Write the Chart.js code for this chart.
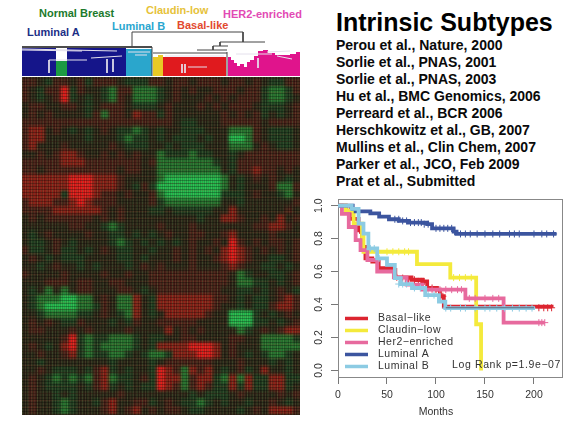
<!DOCTYPE html>
<html>
<head>
<meta charset="utf-8">
<title>Intrinsic Subtypes</title>
<script src="https://cdn.jsdelivr.net/npm/chart.js@4"></script>
<style>
html,body{margin:0;padding:0;background:#fff;width:588px;height:424px;overflow:hidden;font-family:"Liberation Sans",Arial,sans-serif}
canvas{position:absolute;display:block}
.lbl{position:absolute;font-weight:bold;font-size:11px;line-height:12px;white-space:nowrap}
#title{position:absolute;left:336px;top:8px;font-weight:bold;font-size:25px;line-height:28px;color:#000;white-space:nowrap}
#refs{position:absolute;left:336px;top:37px;font-weight:bold;font-size:14px;line-height:17px;color:#0a0a0a;white-space:nowrap}
#heatWrap{position:absolute;left:22px;top:77px;width:278px;height:338px;overflow:hidden;background:#2c2618}
#heatWrap canvas{left:-1px;top:1px;filter:blur(1.6px)}
#grain{position:absolute;left:0;top:0;right:0;bottom:0;
  background:repeating-linear-gradient(0deg,rgba(0,0,0,.28) 0 1px,transparent 1px 3px),
             repeating-linear-gradient(90deg,rgba(190,190,130,.12) 0 1px,transparent 1px 3px),
             repeating-linear-gradient(90deg,rgba(60,150,70,.14) 0 1px,transparent 1px 5px),
             repeating-linear-gradient(0deg,rgba(150,60,40,.14) 0 1px,transparent 1px 7px),
             repeating-linear-gradient(90deg,rgba(0,0,0,.16) 0 1px,transparent 1px 2px)}
</style>
</head>
<body>
<div class="lbl" style="left:39px;top:7px;color:#1c7a2c">Normal Breast</div>
<div class="lbl" style="left:27px;top:26px;color:#1c2f86">Luminal A</div>
<div class="lbl" style="left:112px;top:20px;color:#2aa6cf">Luminal B</div>
<div class="lbl" style="left:146px;top:4px;color:#e6c23a">Claudin-low</div>
<div class="lbl" style="left:177px;top:19px;color:#e2492e">Basal-like</div>
<div class="lbl" style="left:223px;top:8px;color:#e24ab4">HER2-enriched</div>
<div id="title">Intrinsic Subtypes</div>
<div id="refs"></div>
<canvas id="tree" width="278" height="52" style="left:22px;top:24px"></canvas>
<div id="heatWrap"><canvas id="heat" width="280" height="336"></canvas><div id="grain"></div></div>
<canvas id="km" width="265" height="234" style="left:305px;top:190px"></canvas>
<script>
// citas de la derecha
const references = [
  "Perou et al., Nature, 2000",
  "Sorlie et al., PNAS, 2001",
  "Sorlie et al., PNAS, 2003",
  "Hu et al., BMC Genomics, 2006",
  "Perreard et al., BCR 2006",
  "Herschkowitz et al., GB, 2007",
  "Mullins et al., Clin Chem, 2007",
  "Parker et al., JCO, Feb 2009",
  "Prat et al., Submitted"
];

// Heatmap: one string per row, one letter per column
// . neutral  r/R/B red levels  g/G/H green levels
const heatRows = [
  "rr.gr r.rgr rr.gg grr.r r.rrr .rr.r .ggrr",
  "r.grr Bgr.. gGrrG GGg.r .r..r rr.rr gGGgr",
  "r.g.r Bg.g. gGr.G GGg.r ...r. r.rrr gGGg.",
  ".rr.. rr.g. rrr.g gg.r. ..r.r .rrr. ggg.r",
  ".r.r. ...gr Grr.R rrgr. ..... r.r.r g.g.r",
  "rrrrr rrrrr rrrrr rrrr. gg... rrrrr .rrrr",
  "rRR.r .g.g. r.ggG g.g.. ggg.. .GGGr .ggg.",
  "rRR.. ...g. ..gGg g.g.g gg.g. .HHGr .ggg.",
  "rR... r.... .r.gg g..g. ggg.. .GGG. r.gg.",
  "..r.r RRr.. r.r.r ..Ggg gGgg. .g.rr rrrrr",
  "rrrrr RRRrr rrrrr .rGGG GGGGg .grrr rrrrr",
  "rr.rr rrrrr rr.rr ..GGG GGGGG .grrR rr.r.",
  "RRRRR RBBBR RRr.. ..GHH HHHHH G.g.r .r.g.",
  "RRRRR RBBBR RRr.g rgHHH HHHHH G.g.. .rGGr",
  "RRRRR gBBBR rr.r. .rGHH HHHHH ggg.r ..gG.",
  "rRRRr rRBRr rr... .rgGG GGGGG ..g.. ....r",
  "rrrrR RRRRR r.r.. .gg.g gggg. .R... ...r.",
  ".r.rr rrrr. r.r.. ..... ..g.. RRr.. r.R.r",
  "..... .rr.. gGg.. ..r.. .r... ....r rRRr.",
  ".g.r. ...r. .gg.g .g.r. .rr.. rR... .r...",
  ".gg.r .g... .gGg. g.g.g .r..r .Br.r .rr.r",
  "rgg.r gg.g. r.gg. .g..r .r.r. RBRr. r.r.r",
  ".r.g. ggg.. ..gg. g...r .r..r RBRr. .gg.r",
  "..g.r ..g.g ...g. r.r.. .r... rRr.. gg.g.",
  "r.... r.... r..r. .rrrr rrrrr r.Gg. .gg.r",
  "...rr r.rr. .rr.. .rrrr rrrrr r.GGg g.g.r",
  ".g.G. G.rr. ..rr. g.rrr rrrrr ..gg. g.r.g",
  ".gGGG HHGG. r.GGR .gRRR RRRRr r.g.g g.rRr",
  ".gGHH HHGGg r.GGR .gRRR RRRRr ..g.g grRRr",
  "..gGG GGgg. r.gGR .g.RR RRRr. .HHHg .g.r.",
  ".r.r. ggr.. .g.gr ..rrr rr... .HHHg g.g.r",
  ".rr.. .r.r. ...r. ...R. r.r.. ..Gg. r.rRR",
  "..... rBgGg gGGGg .gg.. rr... .rr.. GGGGg",
  ".r.g. RBgGg GGGGg .gRRR RBBBR .r... GGGGG",
  "..r.. rRgGg gGGg. gGGgR RRBBR .r.g. gGGg.",
  "..g.. ..... .g... .g.rr rrrr. ..r.. .g.g.",
  "..r.g gg.gr Rg.g. .gBRr GRrR. g.rg. R..g.",
  ".r.gG gGgGr RGgg. rgBRR GrRRg GRGRg gRRgg",
  ".r.gg gg.gr Rg.g. ggBRr GrRrg gRgRg gRRg.",
  ".r..g .g... ..r.. ..... .g.gg g.r.. ..r.r",
  ".r..g Gg..g rR..r rg.r. ggGg. g..g. .r.g.",
  ".r..g Gg... rR.rR .r.rr .gg.. ..g.r .RRRr"
];
const heatColors = {
  ".": "#2c2618", r: "#4a2018", R: "#8c1e16", B: "#e81a1a",
  g: "#203c20", G: "#26752f", H: "#24c050"
};

// Dendrogram: sample position along the tree and node height
const lumAX = [0, 34, 45, 104];
const lumAH = [28, 15, 28, 28];
const normalX = [34, 45];
const normalH = [15, 15];
const lumBX = [104, 130];
const lumBH = [27, 27];
const claudinX = [131, 136, 141];
const claudinH = [19, 21, 21];
const basalBandX = [141, 204];
const basalBandH = [19, 19];
const herX = [206, 209, 212, 215, 218, 222, 225, 228, 232, 236, 241, 246, 253, 261, 268, 274, 278];
const herH = [19, 16, 13, 10, 12, 9, 14, 16, 20, 25, 26, 23, 21, 21, 22, 24, 24];
const darkLinks = [
  [[110, 29], [110, 44]], [[110, 44], [221, 44]], [[221, 44], [221, 34]],
  [[198, 34], [243, 34]], [[198, 34], [198, 30]], [[191, 30], [206, 30]], [[191, 30], [191, 26]],
  [[175, 26], [205, 26]], [[131, 23], [205, 23]], [[130, 0], [130, 29]], [[205, 0], [205, 24]]
];
const heavyLinks = [[[0, 29], [130, 29]]];
const whiteLinks = [
  [[0, 27], [95, 25]], [[0, 26], [60, 25]], [[27, 16], [65, 16]], [[27, 16], [27, 3]],
  [[69, 18], [100, 20]], [[85, 17], [85, 3]], [[91, 17], [91, 4]], [[106, 24], [128, 24]], [[113, 21], [125, 21]],
  [[143, 20], [202, 20]], [[160, 12], [160, 3]], [[163, 12], [163, 3]], [[166, 9], [185, 9]],
  [[214, 22], [250, 22]], [[245, 24], [268, 25]], [[255, 20], [270, 17]], [[236, 18], [236, 8]]
];

// Kaplan-Meier curves
const months = [0, 50, 100, 150, 200];
const survTicks = [0, 0.2, 0.4, 0.6, 0.8, 1];
const basalT = [0, 8, 12, 21, 24.5, 28, 35, 41.5, 55, 58.5, 75, 86, 91, 101, 104, 108, 218];
const basalS = [1, .97, .92, .85, .75, .68, .66, .62, .61, .565, .55, .54, .50, .49, .45, .387, .38];
const claudinT = [0, 8, 16, 24.5, 26, 80.6, 114.6, 141, 146];
const claudinS = [1, .97, .89, .81, .72, .645, .563, .28, 0];
const her2T = [0, 4, 11, 18, 23, 30, 40, 57, 70, 86, 130, 169, 211];
const her2S = [1, .95, .87, .79, .73, .67, .60, .565, .52, .49, .437, .29, .29];
const lumAT = [0, 15, 18, 33, 42, 52, 62, 72, 91, 96, 118, 121, 223];
const lumAS = [1, .98, .965, .953, .933, .917, .907, .897, .887, .862, .842, .828, .828];
const lumBT = [0, 14, 21, 26, 31, 40, 50, 58, 64, 75.5, 89, 103, 109.5, 201];
const lumBS = [1, .98, .89, .83, .74, .68, .64, .56, .524, .50, .457, .417, .378, .378];
// thin dark trace seen through the Luminal B tail
const tailT = [110, 200];
const tailS = [.38, .38];

// Censored patients (+ marks)
const basalCensT = [12, 22, 60, 66, 72, 78, 82, 85, 88, 92, 96, 100, 105, 107, 205, 210, 214, 218];
const basalCensS = [.97, .85, .565, .56, .55, .55, .54, .54, .54, .50, .50, .49, .45, .45, .38, .38, .38, .38];
const claudinCensT = [50, 56, 62, 68, 72, 118, 124, 130, 136];
const claudinCensS = [.72, .72, .72, .72, .72, .563, .563, .563, .563];
const her2CensT = [90, 96, 104, 110, 116, 122, 126, 134, 140, 150, 158, 164, 205, 208, 211];
const her2CensS = [.49, .49, .49, .49, .49, .49, .49, .437, .437, .437, .437, .437, .29, .29, .29];
const lumACensT = [58, 62, 66, 70, 74, 78, 82, 85, 88, 92, 100, 104, 108, 112, 116, 119, 125, 130, 135, 142, 150, 158, 165, 175, 180, 185, 200, 208, 213, 220];
const lumACensS = [.917, .917, .907, .907, .897, .897, .897, .897, .887, .887, .862, .862, .862, .862, .862, .842, .828, .828, .828, .828, .828, .828, .828, .828, .828, .828, .828, .828, .828, .828];
const lumBCensT = [33, 37, 42, 62, 66, 70, 78, 84, 92, 98, 110, 115, 125, 130, 140, 150, 155, 162, 170, 178, 185, 192, 198];
const lumBCensS = [.74, .74, .68, .524, .524, .524, .50, .50, .457, .457, .378, .378, .378, .378, .378, .378, .378, .378, .378, .378, .378, .378, .378];

const subtypeNames = ["Basal-like", "Claudin-low", "Her2-enriched", "Luminal A", "Luminal B"];
const subtypeLines = ["#dc2530", "#f4ea3c", "#e76a9e", "#3c559f", "#8ccbe3"];

document.getElementById("refs").innerHTML = references.join("<br>");

Chart.defaults.animation = false;
Chart.defaults.responsive = false;
Chart.defaults.font.family = '"Liberation Sans", Arial, sans-serif';

function zip(xs, ys){
  return xs.map((x, i) => ({ x: x, y: ys[i] }));
}

// Heatmap as stacked bars: each row is a dataset
const heatCells = heatRows.map(r => r.replace(/ /g, ""));
const heatLabels = heatCells[0].split("");
new Chart(document.getElementById("heat"), {
  type: "bar",
  data: {
    labels: heatLabels.map((_, i) => i),
    datasets: heatCells.map(row => ({
      data: row.split("").map(() => 1),
      backgroundColor: row.split("").map(c => heatColors[c]),
      borderWidth: 0,
      barPercentage: 1,
      categoryPercentage: 1
    }))
  },
  options: {
    plugins: { legend: { display: false }, tooltip: { enabled: false } },
    scales: {
      x: { display: false, stacked: true },
      y: { display: false, stacked: true, reverse: true, min: 0, max: heatCells.length }
    }
  }
});

// Colour band and tree
function band(xs, hs, color){
  return { data: zip(xs, hs), showLine: true, stepped: true, fill: "origin", backgroundColor: color,
    borderWidth: 0, pointRadius: 0 };
}
function link(seg, color, w){
  return { data: seg.map(p => ({ x: p[0], y: p[1] })), showLine: true, borderColor: color, borderWidth: w, pointRadius: 0, fill: false };
}
new Chart(document.getElementById("tree"), {
  type: "scatter",
  data: {
    datasets: [
      ...darkLinks.map(s => link(s, "#444", 1)),
      ...heavyLinks.map(s => link(s, "#111", 1.5)),
      ...whiteLinks.map(s => link(s, "#e4e0ec", 1)),
      band(normalX, normalH, "#1c9a42"),
      band(lumAX, lumAH, "#15158a"),
      band(lumBX, lumBH, "#2aa6cc"),
      band(claudinX, claudinH, "#e8c925"),
      band(basalBandX, basalBandH, "#e01a1e"),
      band(herX, herH, "#e0148c")
    ]
  },
  options: {
    plugins: { legend: { display: false }, tooltip: { enabled: false } },
    scales: {
      x: { display: false, type: "linear", min: 0, max: 278 },
      y: { display: false, type: "linear", min: 0, max: 52 }
    }
  }
});

// R style pieces: rotated y labels, legend, p value, axis title
const kmExtras = {
  id: "kmExtras",
  afterDraw(chart){
    const c = chart.ctx, sy = chart.scales.y, area = chart.chartArea;
    c.save();
    c.fillStyle = "#333";
    c.font = '10.5px "Liberation Sans"';
    c.textAlign = "center";
    c.textBaseline = "alphabetic";
    survTicks.forEach(v => {
      c.save();
      c.translate(area.left - 16, sy.getPixelForValue(v));
      c.rotate(-Math.PI / 2);
      c.fillText(v.toFixed(1), 0, 0);
      c.restore();
    });
    c.fillText("Months", (chart.scales.x.getPixelForValue(100)), area.bottom + 38);
    c.textBaseline = "middle";
    c.textAlign = "left";
    c.letterSpacing = "0.5px";
    subtypeNames.forEach((n, i) => {
      const y = sy.getPixelForValue(0.315) + i * 12;
      c.strokeStyle = subtypeLines[i];
      c.lineWidth = 3.5;
      c.beginPath();
      c.moveTo(area.left + 7, y);
      c.lineTo(area.left + 30, y);
      c.stroke();
      c.fillText(n.replace("-", "\u2212"), area.left + 40, y);
    });
    c.textAlign = "right";
    c.letterSpacing = "0.6px";
    c.fillText("Log Rank p=1.9e\u221207", area.right - 1, sy.getPixelForValue(0.035));
    c.restore();
  }
};

const kmSeries = [
  [basalT, basalS, basalCensT, basalCensS],
  [claudinT, claudinS, claudinCensT, claudinCensS],
  [her2T, her2S, her2CensT, her2CensS],
  [lumAT, lumAS, lumACensT, lumACensS],
  [lumBT, lumBS, lumBCensT, lumBCensS]
];
const kmDatasets = [];
kmSeries.forEach((s, i) => {
  // the later series sit on top, as in the original
  kmDatasets.push({ label: subtypeNames[i], data: zip(s[0], s[1]), showLine: true, stepped: true,
    borderColor: subtypeLines[i], borderWidth: 3.8, pointRadius: 0, fill: false, order: 20 - 2 * i });
  kmDatasets.push({ label: subtypeNames[i] + " censored", data: zip(s[2], s[3]), showLine: false,
    pointStyle: "cross", pointRadius: 3.5, pointBorderColor: subtypeLines[i], pointBorderWidth: 1, order: 19 - 2 * i });
});
kmDatasets.push({ label: "tail", data: zip(tailT, tailS), showLine: true, borderColor: "#5a6478", borderWidth: 1, pointRadius: 0, order: 0 });

new Chart(document.getElementById("km"), {
  type: "scatter",
  data: { datasets: kmDatasets },
  options: {
    layout: { padding: { top: 9, right: 8 } },
    plugins: { legend: { display: false }, tooltip: { enabled: false } },
    scales: {
      x: {
        type: "linear", min: 0, max: 228.6,
        afterBuildTicks(a){ a.ticks = months.map(v => ({ value: v })); },
        afterFit(a){ a.height = 47; },
        grid: { drawOnChartArea: false, tickLength: 7, color: "#777" },
        border: { color: "#888" },
        ticks: { color: "#333", font: { size: 10.5 }, padding: 5, maxRotation: 0, autoSkip: false }
      },
      y: {
        type: "linear", min: -0.04, max: 1.04,
        afterBuildTicks(a){ a.ticks = survTicks.map(v => ({ value: v })); },
        afterFit(a){ a.width = 33; },
        grid: { drawOnChartArea: false, tickLength: 7, color: "#777" },
        border: { color: "#888" },
        ticks: { display: false }
      },
      x2: { type: "linear", position: "top", display: true, min: 0, max: 1, afterFit(a){ a.height = 0; },
        ticks: { display: false }, grid: { display: false, drawTicks: false }, border: { color: "#888" } },
      y2: { type: "linear", position: "right", display: true, min: 0, max: 1, afterFit(a){ a.width = 0; },
        ticks: { display: false }, grid: { display: false, drawTicks: false }, border: { color: "#888" } }
    }
  },
  plugins: [kmExtras]
});
</script>
</body>
</html>
